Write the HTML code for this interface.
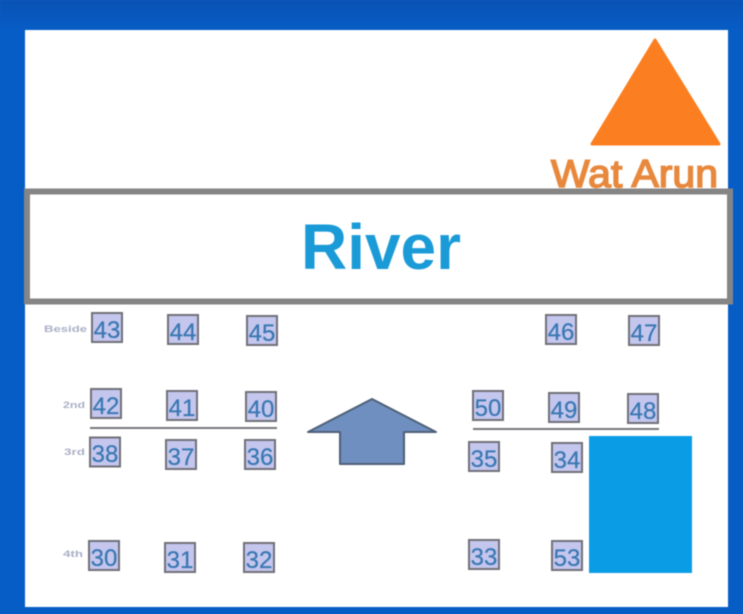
<!DOCTYPE html>
<html>
<head>
<meta charset="utf-8">
<style>
html,body{margin:0;padding:0;background:#0860c9;}
svg{display:block;filter:blur(0.5px);}
text{font-family:"Liberation Sans",sans-serif;}
.n{font-size:24px;fill:#3a78b2;stroke:#3a78b2;stroke-width:0.25;text-anchor:middle;}
.b{fill:#c4c6ee;stroke:#707078;stroke-width:2;}
.l{font-size:9.5px;font-weight:bold;fill:#aab0c6;}
</style>
</head>
<body>
<svg width="743" height="614" viewBox="0 0 743 614" xmlns="http://www.w3.org/2000/svg">
<defs>
<linearGradient id="bg" x1="0" y1="0" x2="0" y2="1">
<stop offset="0" stop-color="#0a52b4"/><stop offset="0.05" stop-color="#075dc6"/><stop offset="1" stop-color="#075dc6"/>
</linearGradient>
</defs>
<rect width="743" height="614" fill="url(#bg)"/>
<rect x="25" y="30" width="703" height="577" fill="#fff"/>

<polygon points="655,40 592,144 719,144" fill="#fb7f20" stroke="#fb7f20" stroke-width="3" stroke-linejoin="round"/>
<text x="551" y="187" font-size="39" fill="#e8883c" stroke="#e8883c" stroke-width="1.5" textLength="167" lengthAdjust="spacingAndGlyphs">Wat Arun</text>

<rect x="27" y="191.500" width="703" height="110" fill="#fff" stroke="#858585" stroke-width="6"/>
<text x="301" y="269" font-size="64" font-weight="bold" fill="#1a9bd8" textLength="160" lengthAdjust="spacingAndGlyphs">River</text>

<text class="l" x="44" y="332" textLength="43" lengthAdjust="spacingAndGlyphs">Beside</text>
<text class="l" x="63" y="408" textLength="22" lengthAdjust="spacingAndGlyphs">2nd</text>
<text class="l" x="64" y="455" textLength="21" lengthAdjust="spacingAndGlyphs">3rd</text>
<text class="l" x="63" y="557" textLength="20" lengthAdjust="spacingAndGlyphs">4th</text>

<rect class="b" x="92" y="313" width="30" height="29"/><text class="n" x="107" y="338">43</text>
<rect class="b" x="168" y="315" width="30" height="29"/><text class="n" x="183" y="340">44</text>
<rect class="b" x="247" y="316" width="30" height="29"/><text class="n" x="262" y="341">45</text>
<rect class="b" x="546" y="315" width="30" height="29"/><text class="n" x="561" y="340">46</text>
<rect class="b" x="629" y="316" width="30" height="29"/><text class="n" x="644" y="341">47</text>

<rect class="b" x="91" y="389" width="30" height="29"/><text class="n" x="106" y="414">42</text>
<rect class="b" x="167" y="391" width="30" height="29"/><text class="n" x="182" y="416">41</text>
<rect class="b" x="246" y="392" width="30" height="29"/><text class="n" x="261" y="417">40</text>
<rect class="b" x="473" y="391" width="30" height="29"/><text class="n" x="488" y="416">50</text>
<rect class="b" x="549" y="393" width="30" height="29"/><text class="n" x="564" y="418">49</text>
<rect class="b" x="628" y="394" width="30" height="29"/><text class="n" x="643" y="419">48</text>

<line x1="90" y1="428" x2="277" y2="428" stroke="#77777c" stroke-width="2"/>
<line x1="473" y1="429" x2="659" y2="429" stroke="#77777c" stroke-width="2"/>

<rect class="b" x="90" y="437.500" width="30" height="29"/><text class="n" x="105" y="462">38</text>
<rect class="b" x="166" y="440" width="30" height="29"/><text class="n" x="181" y="465">37</text>
<rect class="b" x="245" y="440" width="30" height="29"/><text class="n" x="260" y="465">36</text>
<rect class="b" x="469" y="442" width="30" height="29"/><text class="n" x="484" y="467">35</text>
<rect class="b" x="552" y="443" width="30" height="29"/><text class="n" x="567" y="468">34</text>

<rect class="b" x="89" y="541" width="30" height="29"/><text class="n" x="104" y="566">30</text>
<rect class="b" x="165" y="543" width="30" height="29"/><text class="n" x="180" y="568">31</text>
<rect class="b" x="244" y="543" width="30" height="29"/><text class="n" x="259" y="568">32</text>
<rect class="b" x="469" y="540" width="30" height="29"/><text class="n" x="484" y="565">33</text>
<rect class="b" x="552" y="541" width="30" height="29"/><text class="n" x="567" y="566">53</text>

<polygon points="372,399 308,432 340,432 340,464 404,464 404,432 436,432" fill="#6e8fbf" stroke="#4f6078" stroke-width="2" stroke-linejoin="round"/>

<rect x="589" y="436" width="103" height="137" fill="#0a9de6"/>
</svg>
</body>
</html>
